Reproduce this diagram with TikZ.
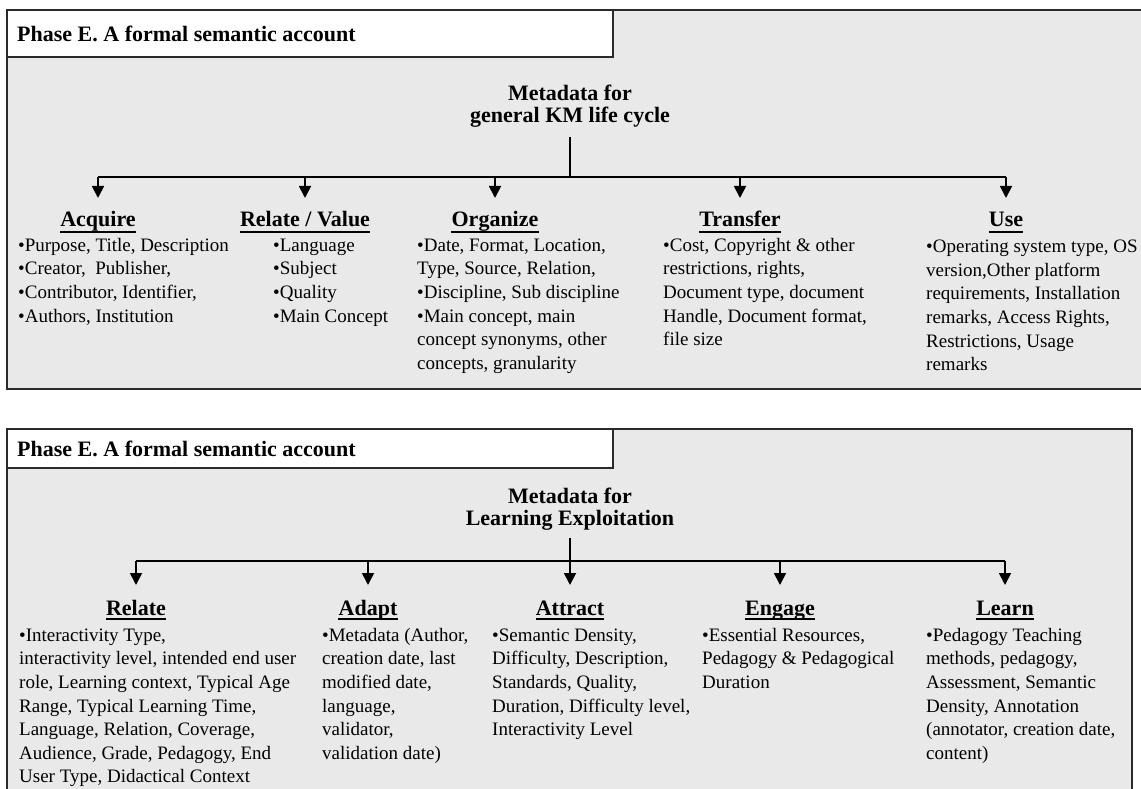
\documentclass[tikz,border=0pt]{standalone}
\usepackage{fontspec}
\setmainfont{Liberation Serif}
\usetikzlibrary{arrows.meta}
\definecolor{panelgray}{HTML}{E9E9E9}
\definecolor{rulegray}{HTML}{2A2A2A}

\begin{document}
\begin{tikzpicture}[x=1pt,y=-1pt,
  frame/.style={draw=rulegray,line width=1.6pt},
  titlebox/.style={fill=white,draw=rulegray,line width=1.6pt},
  titletext/.style={font=\bfseries\fontsize{22}{22}\selectfont,anchor=west,inner sep=0pt},
  hub/.style={font=\bfseries\fontsize{22}{22}\selectfont,align=center,anchor=north,inner sep=0pt},
  head/.style={font=\bfseries\fontsize{22}{22}\selectfont,anchor=base,inner sep=0pt},
  items/.style={font=\fontsize{19}{23.6}\selectfont,anchor=north west,align=left,inner sep=0pt},
  link/.style={line width=1.8pt,draw=black},
  tip/.style={link,-{Triangle[length=12pt,width=12pt]}},
  uline/.style={line width=2.6pt,draw=black}
]
\useasboundingbox (0,0) rectangle (1141,789);

% ---------- upper panel: general KM life cycle ----------
\path[fill=panelgray] (7,10) rectangle (1145,389);
\draw[frame] (1145,10) -- (7,10) -- (7,389) -- (1145,389);
\path[titlebox] (7,10) rectangle (613,57);
\node[titletext] (titleA) at (17,34) {Phase E. A formal semantic account};

\node[hub] (hubA) at (570,85) {Metadata for\\general KM life cycle};
\coordinate (busA) at (570,177);

\node[head] (acq) at (98,226)  {Acquire};
\node[head] (rel) at (305,226) {Relate / Value};
\node[head] (org) at (495,226) {Organize};
\node[head] (tra) at (740,226) {Transfer};
\node[head] (use) at (1006,226) {Use};

\draw[link] ([yshift=-9pt]hubA.south) -- (busA);
\draw[link] (acq |- busA) -- (use |- busA);
\foreach \h in {acq,rel,org,tra,use}{
  \draw[tip] (\h |- busA) -- ([yshift=28pt]\h.base);
  \draw[uline] ([yshift=-6pt]\h.base west) -- ([yshift=-6pt]\h.base east);
}

\node[items] (acqL) at (18,234.5) {\strut•Purpose, Title, Description\\•Creator,\ \ Publisher,\\•Contributor, Identifier,\\•Authors, Institution};
\node[items] (relL) at (273,234.5) {\strut•Language\\•Subject\\•Quality\\•Main Concept};
\node[items] (orgL) at (417,234.5) {\strut•Date, Format, Location,\\Type, Source, Relation,\\•Discipline, Sub discipline\\•Main concept, main\\concept synonyms, other\\concepts, granularity};
\node[items] (traL) at (663,234.5) {\strut•Cost, Copyright \& other\\restrictions, rights,\\Document type, document\\Handle, Document format,\\file size};
\node[items] (useL) at (926,236) {\strut•Operating system type, OS\\version,Other platform\\requirements, Installation\\remarks, Access Rights,\\Restrictions, Usage\\remarks};

% ---------- lower panel: learning exploitation ----------
\path[fill=panelgray] (7,429) rectangle (1132,789);
\draw[frame] (7,789) -- (7,429) -- (1132,429) -- (1132,789);
\path[titlebox] (7,429) rectangle (613,468);
\node[titletext] (titleB) at (17,448.5) {Phase E. A formal semantic account};

\node[hub] (hubB) at (570,488) {Metadata for\\Learning Exploitation};
\coordinate (busB) at (570,561);

\node[head] (rlt) at (136,615)  {Relate};
\node[head] (adp) at (368,615)  {Adapt};
\node[head] (att) at (570,615)  {Attract};
\node[head] (eng) at (780,615)  {Engage};
\node[head] (lrn) at (1005,615) {Learn};

\draw[link] (rlt |- busB) -- (lrn |- busB);
\draw[tip] ([yshift=-7pt]hubB.south) -- ([yshift=30pt]hubB.south |- att.base);
\foreach \h in {rlt,adp,eng,lrn}{
  \draw[tip] (\h |- busB) -- ([yshift=30pt]\h.base);
}
\foreach \h in {rlt,adp,att,eng,lrn}{
  \draw[uline,line width=2.2pt] ([yshift=-4pt]\h.base west) -- ([yshift=-4pt]\h.base east);
}

\node[items] (rltL) at (19,624.5) {\strut•Interactivity Type,\\interactivity level, intended end user\\role, Learning context, Typical Age\\Range, Typical Learning Time,\\Language, Relation, Coverage,\\Audience, Grade, Pedagogy, End\\User Type, Didactical Context};
\node[items] (adpL) at (322,624.5) {\strut•Metadata (Author,\\creation date, last\\modified date,\\language,\\validator,\\validation date)};
\node[items] (attL) at (492,624.5) {\strut•Semantic Density,\\Difficulty, Description,\\Standards, Quality,\\Duration, Difficulty level,\\Interactivity Level};
\node[items] (engL) at (702,624.5) {\strut•Essential Resources,\\Pedagogy \& Pedagogical\\Duration};
\node[items] (lrnL) at (926,624.5) {\strut•Pedagogy Teaching\\methods, pedagogy,\\Assessment, Semantic\\Density, Annotation\\(annotator, creation date,\\content)};
\end{tikzpicture}
\end{document}
